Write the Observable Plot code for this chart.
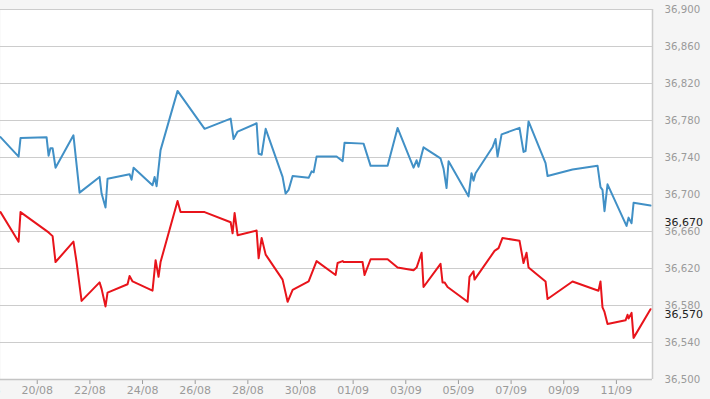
<!DOCTYPE html>
<html>
<head>
<meta charset="utf-8">
<script src="https://cdn.jsdelivr.net/npm/d3@7"></script>
<script src="https://cdn.jsdelivr.net/npm/@observablehq/plot@0.6"></script>
<style>
  html, body { margin: 0; padding: 0; background: #f5f5f5; }
  #chart svg { display: block; }
  #chart svg g[aria-label^="y-axis"] text { font-size: 10.2px; }
  #chart svg g[aria-label^="x-axis"] text { font-size: 11px; }
</style>
</head>
<body>
<div id="chart"></div>
<script>
// ---- data ----
const blueTimes = [
  "08-18T14:30","08-19T07:00","08-19T08:45","08-20T08:30","08-20T10:20","08-20T12:00","08-20T14:00","08-20T16:40",
  "08-21T09:00","08-21T14:35","08-22T08:50","08-22T10:40","08-22T14:15","08-22T16:05",
  "08-23T12:10","08-23T14:00","08-23T15:50","08-24T09:05","08-24T11:00","08-24T12:50","08-24T16:25",
  "08-25T07:55","08-26T08:35","08-27T08:20","08-27T11:00","08-27T14:40",
  "08-28T08:00","08-28T09:50","08-28T12:35","08-28T16:15","08-29T07:40","08-29T10:25","08-29T13:10","08-29T16:50",
  "08-30T07:25","08-30T10:10","08-30T12:00","08-30T14:40","08-31T08:55","08-31T14:25","08-31T16:10",
  "09-01T09:30","09-01T15:55","09-02T07:25","09-02T16:30","09-03T07:05","09-03T09:50","09-03T11:35","09-03T16:10",
  "09-04T07:40","09-04T10:25","09-04T13:10","09-04T15:00","09-05T09:10","09-05T11:55","09-05T13:45","09-05T15:35",
  "09-06T07:05","09-06T09:50","09-06T11:40","09-06T15:20","09-07T07:40","09-07T11:20","09-07T13:10","09-07T15:55",
  "09-08T07:25","09-08T09:15","09-09T08:00","09-10T06:50","09-10T09:30","09-10T11:20","09-10T13:10","09-10T15:55",
  "09-11T09:15","09-11T11:05","09-11T13:50","09-11T15:40","09-12T07:05"
];
const blueValues = [
  36762,36741,36761,36762,36742,36750,36750,36729,
  36764,36702,36719,36701,36686,36717,
  36722,36716,36729,36710,36719,36709,36748,
  36812,36771,36782,36760,36768,
  36777,36744,36743,36771,36719,36701,36705,36720,
  36718,36725,36724,36741,36741,36736,36756,
  36755,36731,36731,36772,36729,36737,36730,36751,
  36739,36728,36707,36736,36698,36723,36715,36723,
  36751,36760,36741,36765,36772,36746,36747,36779,
  36734,36720,36727,36731,36708,36705,36682,36711,
  36666,36675,36669,36691,36688
];
const redTimes = [
  "08-18T14:30","08-19T07:00","08-19T08:45","08-20T10:20","08-20T14:00","08-20T16:40",
  "08-21T09:00","08-21T11:50","08-21T16:25","08-22T08:50","08-22T10:40","08-22T14:15","08-22T16:05",
  "08-23T10:20","08-23T12:10","08-23T14:55","08-24T09:05","08-24T11:55","08-24T14:35","08-24T16:25",
  "08-25T07:55","08-25T10:40","08-26T08:35","08-27T08:20","08-27T10:05","08-27T11:55","08-27T14:40",
  "08-28T08:00","08-28T09:50","08-28T12:35","08-28T16:15","08-29T07:40","08-29T12:15","08-29T16:50",
  "08-30T07:25","08-30T14:40","08-31T08:00","08-31T09:50","08-31T14:25","08-31T15:20",
  "09-01T08:35","09-01T10:25","09-01T15:55","09-02T07:25","09-02T16:30",
  "09-03T07:05","09-03T09:50","09-03T14:25","09-03T16:10","09-04T07:40","09-04T09:30","09-04T11:20","09-04T14:05",
  "09-05T08:20","09-05T10:05","09-05T13:45","09-05T14:40","09-06T08:55","09-06T12:35","09-06T16:10",
  "09-07T07:40","09-07T11:20","09-07T14:05","09-07T15:55","09-08T07:25","09-08T09:15","09-09T08:00",
  "09-10T07:40","09-10T09:30","09-10T11:20","09-10T13:10","09-10T15:55",
  "09-11T08:20","09-11T10:10","09-11T11:05","09-11T13:50","09-11T15:40","09-12T07:05"
];
const redValues = [
  36681,36649,36681,36659,36655,36627,
  36649,36627,36585,36605,36598,36579,36594,
  36603,36612,36606,36596,36629,36611,36627,
  36693,36681,36681,36670,36658,36680,36656,
  36661,36631,36653,36635,36608,36584,36597,
  36606,36628,36613,36626,36628,36627,
  36627,36613,36630,36630,36621,
  36618,36621,36637,36600,36625,36605,36605,36600,
  36584,36611,36617,36608,36639,36642,36653,
  36650,36626,36637,36621,36606,36587,36606,
  36596,36606,36578,36573,36560,
  36564,36570,36566,36572,36545,36576
];
const lastLabels = [36670, 36570];
const xTickLabels = ["08-18","08-20","08-22","08-24","08-26","08-28","08-30","09-01","09-03","09-05","09-07","09-09","09-11"];
const yTickValues = [36500,36540,36580,36620,36660,36700,36740,36780,36820,36860,36900];
const xStart = "08-18T14:30";
const xEnd = "09-12T08:55";
const year = "2020";

// ---- build ----
const toDate = s => new Date(year + "-" + s + (s.includes("T") ? "Z" : "T00:00Z"));
const blue = blueTimes.map((t, i) => ({date: toDate(t), value: blueValues[i]}));
const red = redTimes.map((t, i) => ({date: toDate(t), value: redValues[i]}));
const xDomain = [toDate(xStart), toDate(xEnd)];
const fmt = d3.format(",");

const chart = Plot.plot({
  width: 710,
  height: 399,
  marginLeft: 0,
  marginRight: 58,
  marginTop: 9,
  marginBottom: 20,
  style: {background: "#f5f5f5", fontFamily: "'DejaVu Sans', Verdana, sans-serif", fontSize: "11px", color: "#9a9a9a"},
  x: {type: "utc", domain: xDomain, ticks: xTickLabels.map(toDate), tickFormat: d3.utcFormat("%d/%m"), tickSize: 5, tickPadding: 2, label: null},
  y: {domain: [36500, 36900], axis: "right", ticks: yTickValues, tickFormat: fmt, tickSize: 0, tickPadding: 12, label: null},
  marks: [
    Plot.frame({fill: "white", stroke: null}),
    Plot.ruleY(yTickValues, {stroke: "#cccccc", strokeWidth: 1}),
    Plot.ruleX([xDomain[1]], {stroke: "#cccccc", strokeWidth: 1.5}),
    Plot.ruleY([36500], {stroke: "#c4c4c4", strokeWidth: 1.5}),
    Plot.line(blue, {x: "date", y: "value", stroke: "#4190c6", strokeWidth: 2}),
    Plot.line(red, {x: "date", y: "value", stroke: "#e8141b", strokeWidth: 2}),
    Plot.text(lastLabels, {x: () => xDomain[1], y: d => d, text: d => fmt(d), dx: 12, textAnchor: "start", fill: "#222", fontSize: 11})
  ]
});
document.getElementById("chart").appendChild(chart);
</script>
</body>
</html>
